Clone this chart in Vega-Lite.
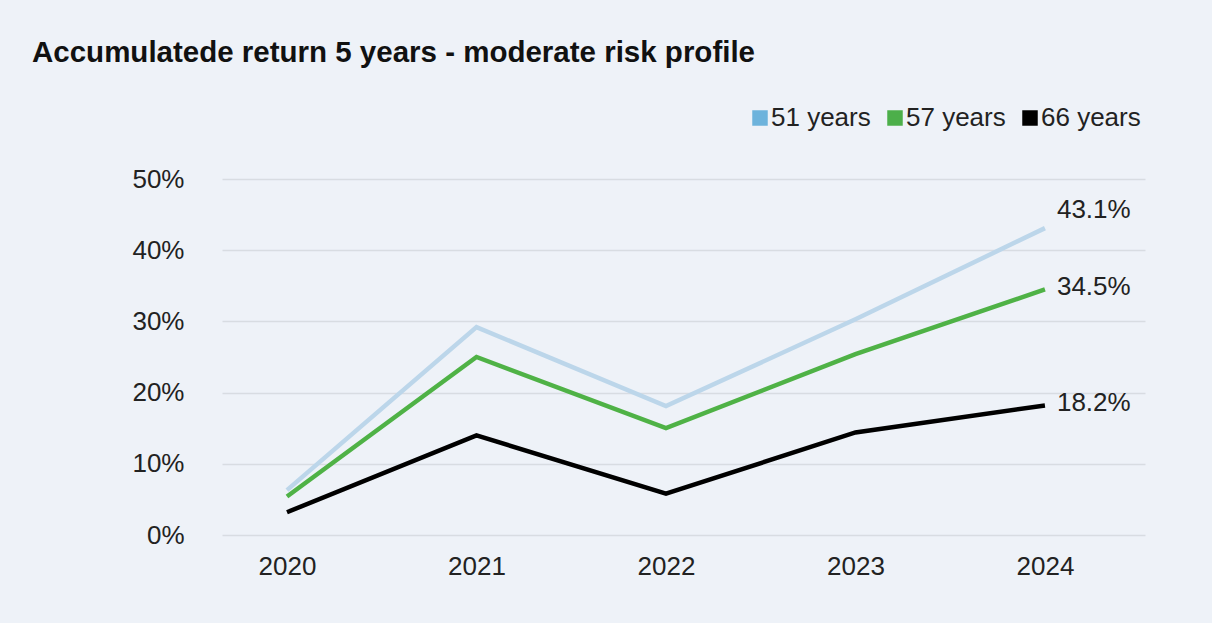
{
  "$schema": "https://vega.github.io/schema/vega-lite/v6.json",
  "width": 923,
  "height": 356,
  "autosize": "none",
  "padding": {"left": 222, "top": 179, "right": 67, "bottom": 88},
  "background": "#eef2f8",
  "title": {
    "text": "Accumulatede return 5 years - moderate risk profile",
    "anchor": "start",
    "frame": "group",
    "dx": -190,
    "offset": 37,
    "font": "Liberation Sans",
    "fontSize": 29.5,
    "fontWeight": "bold",
    "color": "#111111"
  },
  "config": {
    "view": {"stroke": null},
    "font": "Liberation Sans"
  },
  "data": {
    "values": [
      {"year": 2020, "group": "51 years", "value": 0.063},
      {"year": 2021, "group": "51 years", "value": 0.292},
      {"year": 2022, "group": "51 years", "value": 0.181},
      {"year": 2023, "group": "51 years", "value": 0.303},
      {"year": 2024, "group": "51 years", "value": 0.431},
      {"year": 2020, "group": "57 years", "value": 0.054},
      {"year": 2021, "group": "57 years", "value": 0.250},
      {"year": 2022, "group": "57 years", "value": 0.150},
      {"year": 2023, "group": "57 years", "value": 0.254},
      {"year": 2024, "group": "57 years", "value": 0.345},
      {"year": 2020, "group": "66 years", "value": 0.032},
      {"year": 2021, "group": "66 years", "value": 0.140},
      {"year": 2022, "group": "66 years", "value": 0.058},
      {"year": 2023, "group": "66 years", "value": 0.144},
      {"year": 2024, "group": "66 years", "value": 0.182}
    ]
  },
  "encoding": {
    "x": {
      "field": "year",
      "type": "quantitative",
      "scale": {"domain": [2019.657, 2024.528], "nice": false, "zero": false},
      "axis": {
        "title": null,
        "values": [2020, 2021, 2022, 2023, 2024],
        "format": "d",
        "grid": false,
        "domain": false,
        "ticks": false,
        "labelFontSize": 26,
        "labelColor": "#222222",
        "labelPadding": 18,
        "labelFont": "Liberation Sans"
      }
    },
    "y": {
      "field": "value",
      "type": "quantitative",
      "scale": {"domain": [0, 0.5], "nice": false},
      "axis": {
        "title": null,
        "values": [0, 0.1, 0.2, 0.3, 0.4, 0.5],
        "format": ".0%",
        "domain": false,
        "ticks": false,
        "gridColor": "#d8dce2",
        "gridWidth": 1.5,
        "labelFontSize": 26,
        "labelColor": "#222222",
        "labelPadding": 38,
        "labelFont": "Liberation Sans"
      }
    }
  },
  "layer": [
    {
      "mark": {"type": "line", "strokeWidth": 4.5},
      "encoding": {
        "color": {
          "field": "group",
          "type": "nominal",
          "scale": {"domain": ["51 years", "57 years", "66 years"], "range": ["#bcd6ea", "#4fb246", "#000000"]},
          "legend": {
            "title": null,
            "orient": "none",
            "direction": "horizontal",
            "legendX": 525,
            "legendY": -74,
            "symbolType": "square",
            "symbolSize": 240,
            "symbolStrokeWidth": 0,
            "labelFontSize": 26,
            "labelColor": "#222222",
            "labelFont": "Liberation Sans",
            "labelOffset": -2,
            "columnPadding": 11,
            "encode": {
              "symbols": {
                "update": {
                  "fill": {"signal": "datum.value == '51 years' ? '#6db3dc' : datum.value == '57 years' ? '#4caf4a' : '#000000'"},
                  "strokeWidth": {"value": 0},
                  "opacity": {"value": 1}
                }
              }
            }
          }
        }
      }
    },
    {
      "transform": [{"filter": "datum.year == 2024 && datum.group == '51 years'"}],
      "mark": {"type": "text", "align": "left", "baseline": "middle", "dx": 12, "dy": -18, "fontSize": 26, "color": "#222222", "font": "Liberation Sans"},
      "encoding": {"text": {"field": "value", "type": "quantitative", "format": ".1%"}}
    },
    {
      "transform": [{"filter": "datum.year == 2024 && datum.group != '51 years'"}],
      "mark": {"type": "text", "align": "left", "baseline": "middle", "dx": 12, "dy": -2, "fontSize": 26, "color": "#222222", "font": "Liberation Sans"},
      "encoding": {"text": {"field": "value", "type": "quantitative", "format": ".1%"}}
    }
  ]
}
